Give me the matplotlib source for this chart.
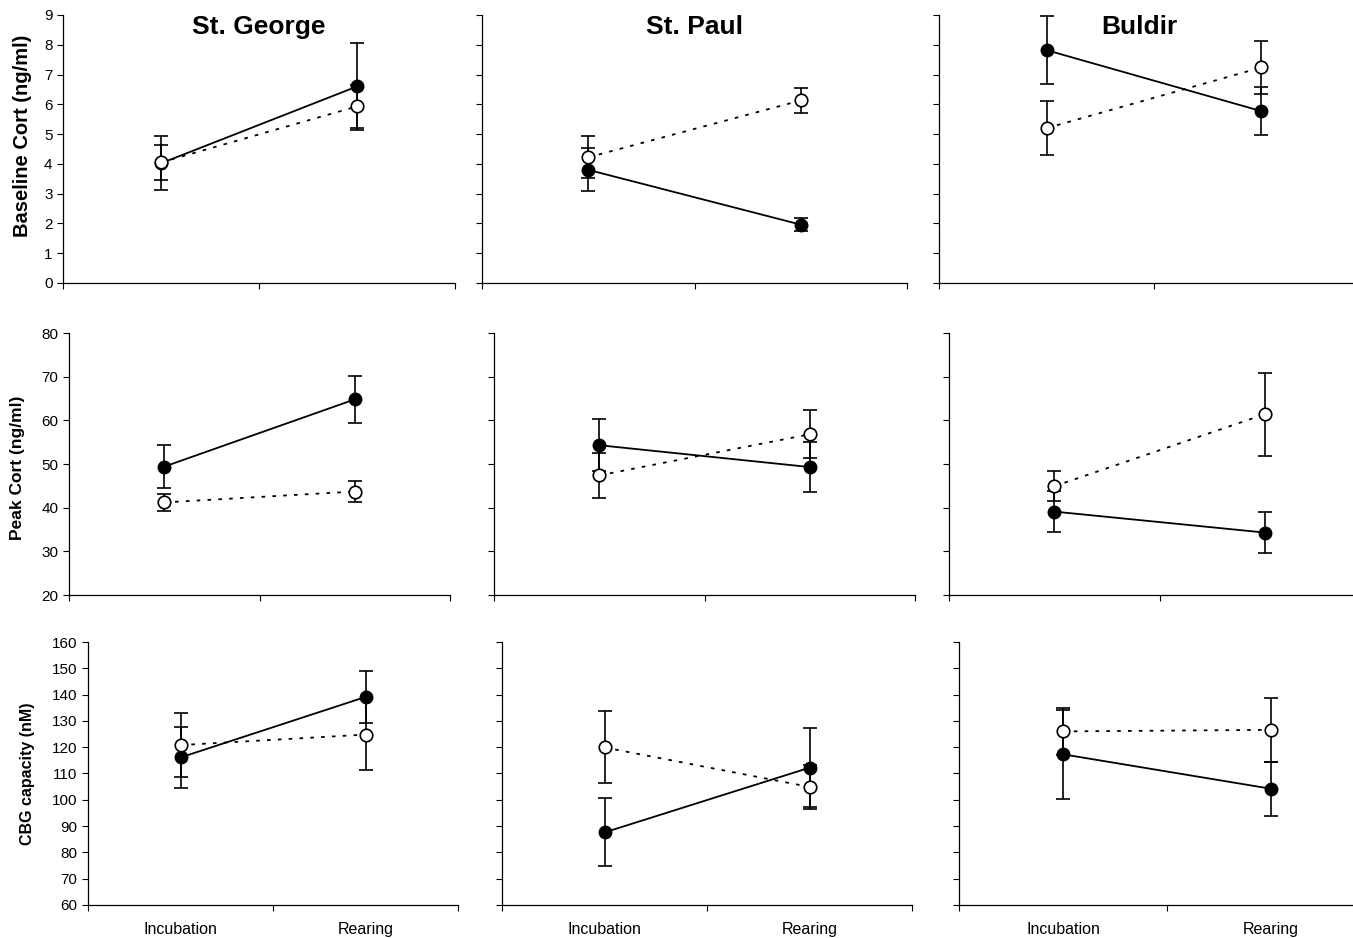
import matplotlib.pyplot as plt

plt.rcParams['font.family'] = ['Liberation Sans', 'DejaVu Sans']

# Data (filled = solid line, open = dotted line)
islands = ["St. George", "St. Paul", "Buldir"]
stages = ["Incubation", "Rearing"]
row_labels = ["Baseline Cort (ng/ml)", "Peak Cort (ng/ml)", "CBG capacity (nM)"]

baseline_filled = [[4.02, 6.60], [3.80, 1.96], [7.82, 5.77]]
baseline_filled_err = [[0.90, 1.45], [0.72, 0.21], [1.13, 0.80]]
baseline_open = [[4.05, 5.93], [4.22, 6.13], [5.20, 7.24]]
baseline_open_err = [[0.60, 0.73], [0.70, 0.42], [0.90, 0.90]]

peak_filled = [[49.4, 64.8], [54.3, 49.3], [39.1, 34.3]]
peak_filled_err = [[5.0, 5.4], [5.9, 5.7], [4.7, 4.7]]
peak_open = [[41.2, 43.7], [47.4, 56.8], [44.9, 61.4]]
peak_open_err = [[1.9, 2.5], [5.2, 5.5], [3.4, 9.5]]

cbg_filled = [[116.1, 139.1], [87.6, 112.2], [117.3, 104.2]]
cbg_filled_err = [[11.6, 9.8], [12.9, 15.0], [17.0, 10.2]]
cbg_open = [[120.8, 124.8], [119.9, 104.9], [126.0, 126.6]]
cbg_open_err = [[12.2, 13.6], [13.7, 8.5], [9.0, 12.1]]

rows = [
    (baseline_filled, baseline_filled_err, baseline_open, baseline_open_err),
    (peak_filled, peak_filled_err, peak_open, peak_open_err),
    (cbg_filled, cbg_filled_err, cbg_open, cbg_open_err),
]
ylims = [(0, 9, 1), (20, 80, 10), (60, 160, 10)]

# panel boxes in pixels: (left, right) per column, (top, bottom) per row
W, H = 1353, 938
col_px = [
    [(63, 455), (482, 907), (939, 1369)],
    [(69, 450), (494, 915), (949, 1370)],
    [(88, 458), (502, 912), (959, 1375)],
]
row_px = [(15, 283), (333, 595), (642, 905)]
ylabel_px = [(23, 136, 14.5), (18, 468, 12.5), (28, 774, 11.5)]
title_x = [0.5, 0.5, 0.467]

fig = plt.figure(figsize=(W / 100, H / 100), dpi=100)
xpos = [0.5, 1.5]

for r in range(3):
    filled, filled_err, opn, opn_err = rows[r]
    lo, hi, step = ylims[r]
    top, bot = row_px[r]
    for c in range(3):
        left, right = col_px[r][c]
        ax = fig.add_axes([left / W, 1 - bot / H, (right - left) / W, (bot - top) / H])
        ax.errorbar(xpos, filled[c], yerr=filled_err[c], color='black', lw=1.3,
                    marker='o', ms=9, mfc='black', mec='black', capsize=5,
                    elinewidth=1.2, capthick=1.2, zorder=3)
        ax.errorbar(xpos, opn[c], yerr=opn_err[c], color='black', lw=1.3,
                    ls=(0, (2, 4)), marker='o', ms=9, mfc='white', mec='black',
                    mew=1.2, capsize=5, elinewidth=1.2, capthick=1.2, zorder=4)
        ax.set_xlim(0, 2)
        ax.set_ylim(lo, hi)
        ax.set_yticks(range(lo, hi + 1, step))
        ax.set_xticks([0, 1, 2])
        ax.set_xticklabels([])
        ax.tick_params(axis='both', direction='out', length=4, width=0.8, labelsize=11)
        for s in ['top', 'right']:
            ax.spines[s].set_visible(False)
        for s in ['left', 'bottom']:
            ax.spines[s].set_linewidth(0.9)
        if c > 0:
            ax.set_yticklabels([])
        if r == 2:
            ax.set_xticks(xpos, minor=True)
            ax.set_xticklabels(stages, minor=True, fontsize=11.5)
            ax.tick_params(axis='x', which='minor', length=0, pad=12)
        if r == 0:
            ax.text(title_x[c], 1.0, islands[c], transform=ax.transAxes, ha='center',
                    va='top', fontsize=19, fontweight='bold')

for r in range(3):
    x, y, fs = ylabel_px[r]
    fig.text(x / W, 1 - y / H, row_labels[r], rotation=90, ha='center', va='center',
             fontsize=fs, fontweight='bold')

plt.savefig("out.png", dpi=100)
